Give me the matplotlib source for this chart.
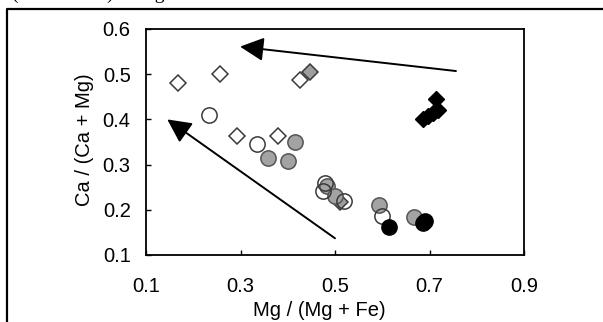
import matplotlib
matplotlib.use("Agg")
import matplotlib.pyplot as plt
from matplotlib.lines import Line2D

# ---- data ----
open_diamond_x = [0.167, 0.257, 0.425, 0.293, 0.379]
open_diamond_y = [0.480, 0.500, 0.487, 0.364, 0.364]
gray_diamond_x = [0.448, 0.511]
gray_diamond_y = [0.504, 0.217]
black_diamond_x = [0.713, 0.686, 0.717, 0.696, 0.708]
black_diamond_y = [0.445, 0.401, 0.421, 0.407, 0.414]

open_circle_x = [0.234, 0.334, 0.479, 0.474, 0.519, 0.599]
open_circle_y = [0.410, 0.346, 0.259, 0.241, 0.220, 0.187]
gray_circle_x = [0.416, 0.358, 0.400, 0.483, 0.499, 0.593, 0.668]
gray_circle_y = [0.351, 0.315, 0.309, 0.252, 0.230, 0.210, 0.184]
black_circle_x = [0.614, 0.690, 0.686]
black_circle_y = [0.161, 0.176, 0.171]

arrow_tails = [(0.756, 0.507), (0.500, 0.137)]
arrow_tips = [(0.299, 0.561), (0.145, 0.400)]

x_ticks = [0.1, 0.3, 0.5, 0.7, 0.9]
y_ticks = [0.1, 0.2, 0.3, 0.4, 0.5, 0.6]

plt.rcParams['font.family'] = ['Liberation Sans', 'DejaVu Sans']

W, H = 603, 322
fig = plt.figure(figsize=(W / 100, H / 100), dpi=100)
ax = fig.add_axes([146 / W, 1 - 255 / H, (524 - 146) / W, (255 - 29) / H])

ax.set_xlim(0.1, 0.9)
ax.set_ylim(0.1, 0.6)
ax.set_xticks(x_ticks)
ax.set_yticks(y_ticks)
ax.set_xticklabels([f"{v:.1f}" for v in x_ticks])
ax.set_yticklabels([f"{v:.1f}" for v in y_ticks])
ax.tick_params(direction='in', length=3.5, width=1, labelsize=14.5,
               colors='black')
ax.tick_params(axis='x', pad=16)
ax.tick_params(axis='y', pad=11)
for s in ax.spines.values():
    s.set_linewidth(1.3)

edge = '#3a3a3a'
ms_c = 11
ms_d = 8.3
ax.plot(open_diamond_x, open_diamond_y, 'D', ms=ms_d, mfc='white', mec=edge, mew=1.1, ls='none')
ax.plot(gray_diamond_x, gray_diamond_y, 'D', ms=ms_d, mfc='#9e9e9e', mec=edge, mew=1.1, ls='none')
ax.plot(black_diamond_x, black_diamond_y, 'D', ms=ms_d, mfc='black', mec='black', mew=1.0, ls='none')
ax.plot(gray_circle_x, gray_circle_y, 'o', ms=ms_c, mfc='#a3a3a3', mec='#555555', mew=1.1, ls='none')
ax.plot(open_circle_x, open_circle_y, 'o', ms=ms_c, mfc='none', mec=edge, mew=1.1, ls='none')
ax.plot(black_circle_x, black_circle_y, 'o', ms=ms_c, mfc='black', mec='black', mew=1.0, ls='none')

for tail, tip in zip(arrow_tails, arrow_tips):
    ax.annotate('', xy=tip, xytext=tail,
                arrowprops=dict(arrowstyle='-|>,head_length=0.5,head_width=0.25',
                                mutation_scale=29, color='black', lw=1.4,
                                shrinkA=0, shrinkB=0))

fig.text(319 / W, 1 - 311 / H, 'Mg / (Mg + Fe)', ha='center', va='center', fontsize=14.5)
fig.text(84 / W, 1 - 140 / H, 'Ca / (Ca + Mg)', ha='center', va='center',
         rotation=90, fontsize=14.5)

# outer frame (partially visible)
fig.add_artist(Line2D([6.5 / W, 6.5 / W, 1.01], [-0.05, 1 - 8.5 / H, 1 - 8.5 / H],
                      transform=fig.transFigure, color='black', lw=1.6))

# partially visible caption above frame (cut off at the top edge, as in the reference)
fig.text(12 / W, 1 + 1.5 / H, '(dashed line) in Fig. 3.', ha='left', va='baseline',
         fontsize=14, family=['Liberation Serif', 'DejaVu Serif'])

fig.savefig('out.png', dpi=100)
